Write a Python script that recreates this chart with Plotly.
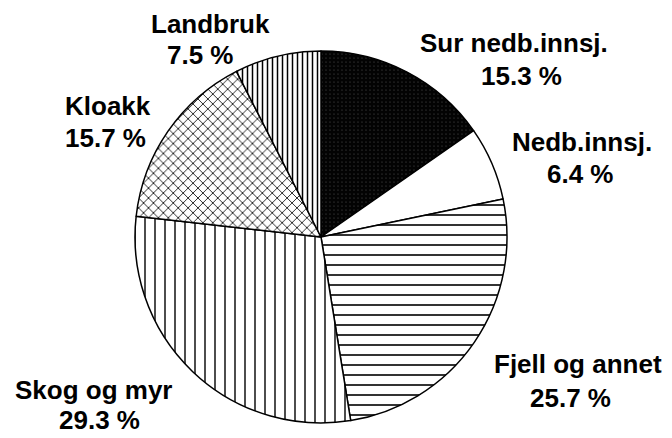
import plotly.graph_objects as go

# ---- data ----
labels = ["Sur nedb.innsj.", "Nedb.innsj.", "Fjell og annet", "Skog og myr", "Kloakk", "Landbruk"]
values = [15.3, 6.4, 25.7, 29.3, 15.7, 7.5]

# ---- styling per slice ----
shapes = [".", "", "-", "|", "x", "|"]
fg = ["#555555", "black", "black", "black", "black", "black"]
bg = ["#030303", "white", "white", "white", "white", "white"]
psize = [4, 8, 10, 10, 7, 5]
psol = [0.07, 0.2, 0.16, 0.14, 0.22, 0.3]

W, H = 672, 438
cx, cy, r = 321, 237, 186

fig = go.Figure(go.Pie(
    labels=labels, values=values, sort=False, direction="clockwise", rotation=0,
    textinfo="none", hoverinfo="skip",
    marker=dict(
        colors=bg,
        line=dict(color="black", width=1.5),
        pattern=dict(shape=shapes, fgcolor=fg, bgcolor=bg, size=psize,
                     solidity=psol, fillmode="replace"),
    ),
    domain=dict(x=[(cx - r) / W, (cx + r) / W], y=[(H - cy - r) / H, (H - cy + r) / H]),
    showlegend=False,
))

# label placement: (name line: x, y, anchor), (value line: x, y, anchor)
pos = [
    ((418, 43, "left"), (479, 76, "left")),
    ((510, 142, "left"), (545, 174, "left")),
    ((664, 364, "right"), (528, 398, "left")),
    ((13, 390, "left"), (57, 420, "left")),
    ((63, 106, "left"), (63, 138, "left")),
    ((149, 24, "left"), (165, 55, "left")),
]

font = dict(family="Liberation Sans, Arial, sans-serif", size=26, color="black")
ann = []
for lab, val, (p1, p2) in zip(labels, values, pos):
    for txt, (x, y, xa) in ((lab, p1), (f"{val:.1f} %", p2)):
        ann.append(dict(text=f"<b>{txt}</b>", x=x / W, y=(H - y) / H, xref="paper", yref="paper",
                        xanchor=xa, yanchor="middle", showarrow=False, font=font))

fig.update_layout(
    width=W, height=H, margin=dict(l=0, r=0, t=0, b=0),
    paper_bgcolor="white", plot_bgcolor="white",
    annotations=ann,
)
fig.write_html("out.html", config={"displayModeBar": False, "staticPlot": True},
               post_script="document.body.style.margin='0';document.body.style.padding='0';")
